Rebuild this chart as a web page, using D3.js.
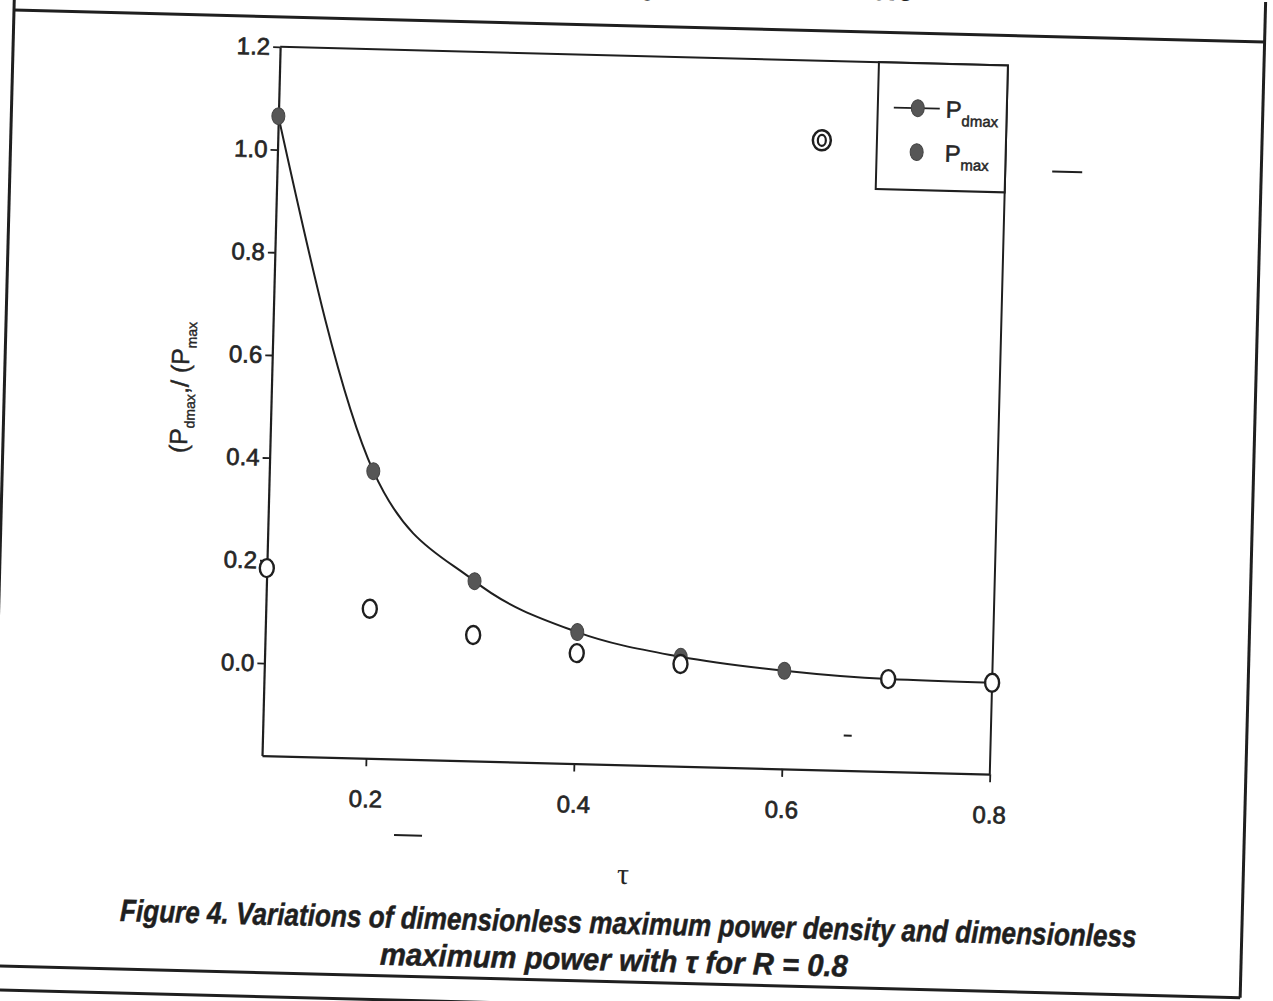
<!DOCTYPE html>
<html>
<head>
<meta charset="utf-8">
<script src="https://cdn.jsdelivr.net/npm/d3@7"></script>
<style>
  html, body { margin: 0; padding: 0; background: #fff; }
  svg { display: block; }
</style>
</head>
<body>
<svg id="figure"></svg>
<script>
// Values (tau on x, dimensionless power on y)
const tauValues = [0.1, 0.2, 0.3, 0.4, 0.5, 0.6, 0.7, 0.8];
const pdmaxValues = [1.065, 0.379, 0.170, 0.076, 0.033, 0.011, 0.000, -0.002];
const pmaxValues = [0.185, 0.111, 0.065, 0.035, 0.019, null, 0.000, -0.002];

// Stray double ring printed in the upper part of the plot
const strayTau = [0.623];
const strayValue = [1.045];

const xTicks = [0.2, 0.4, 0.6, 0.8];
const yTicks = [0.0, 0.2, 0.4, 0.6, 0.8, 1.0, 1.2];
const xDomain = [0.1, 0.8];
const yDomain = [-0.18, 1.2];

const legendLabels = [
  { main: 'P', sub: 'dmax', line: true },
  { main: 'P', sub: 'max', line: false }
];

const captionLines = [
  'Figure 4. Variations of dimensionless maximum power density and dimensionless',
  'maximum power with \u03c4 for R = 0.8'
];
const previousCaption = 'maximum power density with \u03c4 for R = 0.6';

const W = 1273, H = 1001;
const TILT = 1.465; // the scan is slightly rotated
const margin = { left: 267, top: 30 };
const innerWidth = 728, innerHeight = 709;

const ink = '#1f1f1f';
const textInk = '#262626';
const dotFill = '#565656';
const sansFont = "'Liberation Sans', Arial, sans-serif";
const captionFont = "'Liberation Sans Narrow', 'Liberation Sans', Arial, sans-serif";

const svg = d3.select('#figure').attr('width', W).attr('height', H);
svg.append('rect').attr('width', W).attr('height', H).attr('fill', '#fff');

const page = svg.append('g').attr('transform', `translate(14,10) rotate(${TILT})`);

// --- page frame -------------------------------------------------------
const frame = page.append('g')
  .attr('stroke', ink)
  .attr('stroke-width', 3)
  .attr('fill', 'none');
frame.append('line').attr('x1', 0).attr('y1', -40).attr('x2', 0).attr('y2', 956);
frame.append('line').attr('x1', 1251).attr('y1', -40).attr('x2', 1251).attr('y2', 956);
frame.append('line').attr('x1', 0).attr('y1', 0).attr('x2', 1251).attr('y2', 0);
frame.append('line').attr('x1', 0).attr('y1', 956).attr('x2', 1251).attr('y2', 956);
frame.append('line').attr('x1', -40).attr('y1', 980).attr('x2', 1300).attr('y2', 980);

// caption of the figure above, cut by the top of the page
page.append('text')
  .attr('x', 900).attr('y', -32)
  .attr('text-anchor', 'end')
  .attr('font-family', captionFont)
  .attr('font-weight', 'bold').attr('font-style', 'italic')
  .attr('font-size', 31).attr('fill', ink)
  .text(previousCaption);

// --- caption ------------------------------------------------------------
const captionPos = [
  { x: 129, y: 908, len: 1017 },
  { x: 390, y: 945, len: 468 }
];
page.append('g').selectAll('text')
  .data(captionLines)
  .join('text')
  .attr('x', (d, i) => captionPos[i].x)
  .attr('y', (d, i) => captionPos[i].y)
  .attr('textLength', (d, i) => captionPos[i].len)
  .attr('lengthAdjust', 'spacingAndGlyphs')
  .attr('font-family', captionFont)
  .attr('font-weight', 'bold').attr('font-style', 'italic')
  .attr('font-size', 31).attr('fill', ink)
  .attr('stroke', ink).attr('stroke-width', 0.5)
  .text(d => d);

// --- plot ---------------------------------------------------------------
const g = page.append('g').attr('transform', `translate(${margin.left},${margin.top})`);

const x = d3.scaleLinear().domain(xDomain).range([0, innerWidth]);
const y = d3.scaleLinear().domain(yDomain).range([innerHeight, 0]);

// top and right edges of the box
g.append('path')
  .attr('d', `M0,0H${innerWidth}V${innerHeight}`)
  .attr('fill', 'none')
  .attr('stroke', ink)
  .attr('stroke-width', 2);

const yAxis = g.append('g')
  .call(d3.axisLeft(y).tickValues(yTicks).tickFormat(d3.format('.1f'))
    .tickSizeInner(7).tickSizeOuter(0).tickPadding(3));

const xAxis = g.append('g')
  .attr('transform', `translate(0,${innerHeight})`)
  .call(d3.axisBottom(x).tickValues(xTicks).tickFormat(d3.format('.1f'))
    .tickSizeInner(8).tickSizeOuter(0).tickPadding(24));

[yAxis, xAxis].forEach(ax => {
  ax.select('.domain').attr('stroke', ink).attr('stroke-width', 2.2);
  ax.selectAll('.tick line').attr('stroke', ink).attr('stroke-width', 1.8);
  ax.selectAll('.tick text')
    .attr('font-family', sansFont)
    .attr('font-size', 24)
    .attr('fill', textInk)
    .attr('stroke', textInk)
    .attr('stroke-width', 0.7);
});

// axis titles
const yLabel = g.append('text')
  .attr('transform', 'translate(-83,343) rotate(-90)')
  .attr('text-anchor', 'middle')
  .attr('font-family', sansFont)
  .attr('font-size', 25)
  .attr('fill', textInk)
  .attr('stroke', textInk)
  .attr('stroke-width', 0.4);
yLabel.append('tspan').text('(P');
yLabel.append('tspan').attr('font-size', 14).attr('dy', 7).text('dmax');
yLabel.append('tspan').attr('dy', -7).text(',/ (P');
yLabel.append('tspan').attr('font-size', 14).attr('dy', 7).text('max');

g.append('text')
  .attr('x', innerWidth / 2).attr('y', 828)
  .attr('text-anchor', 'middle')
  .attr('font-family', "'Liberation Serif', 'DejaVu Serif', serif")
  .attr('font-size', 30)
  .attr('fill', textInk)
  .text('\u03c4');

// P_dmax curve and points
const pdmax = tauValues.map((t, i) => ({ t, v: pdmaxValues[i] }));
const pmax = tauValues.map((t, i) => ({ t, v: pmaxValues[i] })).filter(d => d.v !== null);

const line = d3.line()
  .x(d => x(d.t))
  .y(d => y(d.v))
  .curve(d3.curveMonotoneX);

g.append('path')
  .datum(pdmax)
  .attr('d', line)
  .attr('fill', 'none')
  .attr('stroke', ink)
  .attr('stroke-width', 2);

g.append('g').selectAll('ellipse')
  .data(pdmax)
  .join('ellipse')
  .attr('cx', d => x(d.t))
  .attr('cy', d => y(d.v))
  .attr('rx', 6.5).attr('ry', 8.5)
  .attr('fill', dotFill)
  .attr('stroke', '#444')
  .attr('stroke-width', 1);

// P_max points, printed as open rings
g.append('g').selectAll('ellipse')
  .data(pmax)
  .join('ellipse')
  .attr('cx', d => x(d.t))
  .attr('cy', d => y(d.v))
  .attr('rx', 7).attr('ry', 9)
  .attr('fill', '#fff')
  .attr('stroke', ink)
  .attr('stroke-width', 2.4);

// stray double ring
const stray = g.append('g').selectAll('g')
  .data(strayTau.map((t, i) => ({ t, v: strayValue[i] })))
  .join('g')
  .attr('transform', d => `translate(${x(d.t)},${y(d.v)})`);
stray.append('ellipse').attr('rx', 9).attr('ry', 10)
  .attr('fill', 'none').attr('stroke', ink).attr('stroke-width', 2.5);
stray.append('ellipse').attr('rx', 4).attr('ry', 5.5)
  .attr('fill', 'none').attr('stroke', ink).attr('stroke-width', 2.2);

// --- legend -------------------------------------------------------------
const legend = g.append('g').attr('transform', `translate(${innerWidth - 129},0)`);
legend.append('rect')
  .attr('width', 129).attr('height', 127)
  .attr('fill', '#fff')
  .attr('stroke', ink)
  .attr('stroke-width', 2);

const items = legend.selectAll('g.item')
  .data(legendLabels)
  .join('g')
  .attr('class', 'item')
  .attr('transform', (d, i) => `translate(40,${45 + i * 44})`);

items.filter(d => d.line).append('line')
  .attr('x1', -24).attr('x2', 22)
  .attr('stroke', ink).attr('stroke-width', 1.8);
items.append('ellipse')
  .attr('rx', 6.5).attr('ry', 8.5)
  .attr('fill', dotFill)
  .attr('stroke', '#444').attr('stroke-width', 1);

const itemText = items.append('text')
  .attr('x', 28).attr('y', 9)
  .attr('font-family', sansFont)
  .attr('font-size', 24)
  .attr('fill', textInk)
  .attr('stroke', textInk)
  .attr('stroke-width', 0.5);
itemText.append('tspan').text(d => d.main);
itemText.append('tspan').attr('font-size', 15).attr('dy', 8).text(d => d.sub);

// small printing specks / dashes on the scan
const dashes = page.append('g').attr('stroke', ink).attr('stroke-width', 2);
dashes.append('line').attr('x1', 1042).attr('x2', 1072).attr('y1', 135).attr('y2', 135);
dashes.append('line').attr('x1', 401).attr('x2', 429).attr('y1', 815).attr('y2', 815);
dashes.append('line').attr('x1', 848).attr('x2', 856).attr('y1', 704).attr('y2', 704);
</script>
</body>
</html>
